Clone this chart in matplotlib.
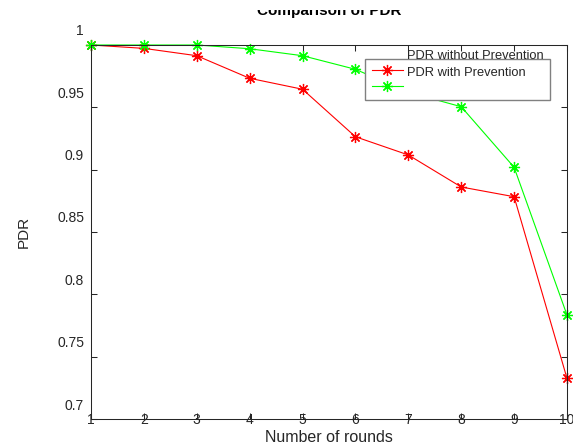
import numpy as np
import matplotlib
matplotlib.use("Agg")
import matplotlib.pyplot as plt
from matplotlib.transforms import ScaledTranslation, Bbox, TransformedBbox

plt.rcParams['font.family'] = ['Liberation Sans', 'DejaVu Sans']

rounds = [1, 2, 3, 4, 5, 6, 7, 8, 9, 10]
pdr_without = [1.000, 0.9973, 0.9914, 0.9733, 0.9645, 0.9264, 0.9118, 0.8861, 0.8783, 0.7326]
pdr_with = [1.000, 1.000, 1.000, 0.997, 0.9914, 0.9805, 0.9621, 0.9505, 0.9019, 0.7834]
yticks = [0.7, 0.75, 0.8, 0.85, 0.9, 0.95, 1.0]
ytick_labels = ['0.7', '0.75', '0.8', '0.85', '0.9', '0.95', '1']

W, H = 573, 448
fig = plt.figure(figsize=(W / 100, H / 100), dpi=100)
ax = fig.add_axes([91 / W, 1 - 419 / H, (567 - 91) / W, (419 - 45) / H])

star = (8, 2, 0)
ax.plot(rounds, pdr_without, color='#ff0000', lw=0.8, marker=star, ms=8, mew=0.9,
        label='PDR without Prevention', clip_on=False)
ax.plot(rounds, pdr_with, color='#00ff00', lw=0.8, marker=star, ms=8, mew=0.9,
        label='PDR with Prevention', clip_on=False)

ax.set_xlim(1, 10)
ax.set_ylim(0.7, 1.0)
ax.set_xticks(rounds)
ax.set_yticks(yticks)
ax.set_yticklabels(ytick_labels)
text_col = '#262626'
ax.tick_params(direction='in', length=4, width=0.75, top=True, right=True,
               labelsize=10, colors=text_col)
ax.tick_params(axis='x', pad=-4)
ax.tick_params(axis='y', pad=5)
for s in ax.spines.values():
    s.set_linewidth(0.75)
    s.set_color(text_col)

# text in the reference is rendered shifted upward
shift = ScaledTranslation(0, 15 / 100, fig.dpi_scale_trans)
for lab in ax.get_yticklabels():
    lab.set_transform(lab.get_transform() + shift)

ax.set_xlabel('Number of rounds', fontsize=11.5, color=text_col, labelpad=2)
ax.set_ylabel('PDR', fontsize=11, color=text_col, labelpad=19)
title = ax.set_title('Comparison of PDR', fontsize=11, fontweight='bold',
                     color='black', pad=21.5)
# the top of the title is cut off in the reference
title.set_clip_box(TransformedBbox(Bbox([[0, 0], [1, 1 - 10 / H]]), fig.transFigure))
title.set_clip_on(True)

leg = ax.legend(loc='upper right', bbox_to_anchor=(550 / W, 1 - 59 / H),
                bbox_transform=fig.transFigure, fontsize=9.3, frameon=True,
                fancybox=False, edgecolor='#808080', framealpha=1,
                handlelength=2.4, handletextpad=0.35, borderpad=0.48,
                labelspacing=0.33, borderaxespad=0)
leg.get_frame().set_linewidth(1.0)
for t in leg.get_texts():
    t.set_color(text_col)
    t.set_transform(t.get_transform() + shift)

fig.savefig('out.png', dpi=100)
